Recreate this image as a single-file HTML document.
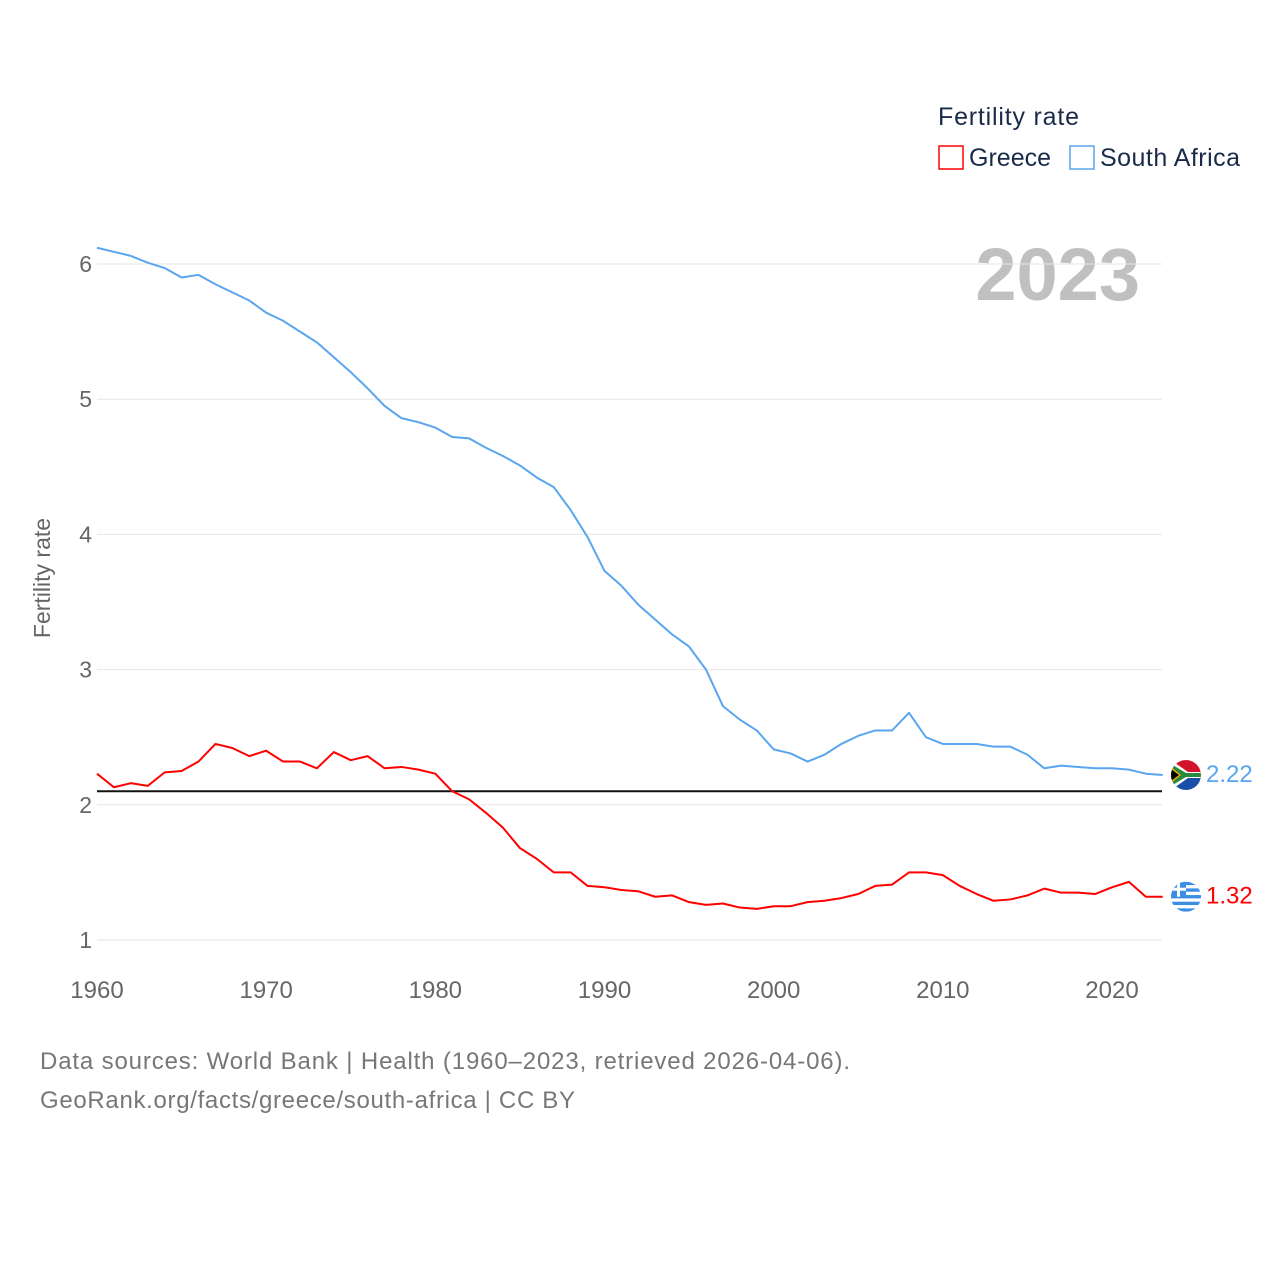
<!DOCTYPE html>
<html><head><meta charset="utf-8"><style>
body{margin:0;background:#fff;font-family:"Liberation Sans",sans-serif;}
svg text{font-family:"Liberation Sans",sans-serif;}
</style></head><body>
<svg id="chart" width="1280" height="1280" xmlns="http://www.w3.org/2000/svg">
<defs>
<clipPath id="c1"><circle cx="1186" cy="0" r="15"/></clipPath>
</defs>
<text x="938" y="125" font-size="25" fill="#1a2b4a" textLength="141">Fertility rate</text>
<rect x="939" y="146" width="24" height="23" fill="none" stroke="#f00" stroke-width="1.5"/>
<text x="969" y="166" font-size="25" fill="#1a2b4a" textLength="82">Greece</text>
<rect x="1070" y="146" width="24" height="23" fill="none" stroke="#5aa5f0" stroke-width="1.5"/>
<text x="1100" y="166" font-size="25" fill="#1a2b4a" textLength="140">South Africa</text>
<text x="1140" y="300" font-size="74" font-weight="bold" fill="#c0c0c0" text-anchor="end">2023</text>
<text transform="translate(50,578) rotate(-90)" font-size="23" fill="#666" text-anchor="middle">Fertility rate</text>
<g id="plot"></g>
<text x="40" y="1069" font-size="24" fill="#777" textLength="810">Data sources: World Bank | Health (1960–2023, retrieved 2026-04-06).</text>
<text x="40" y="1108" font-size="24" fill="#777" textLength="535">GeoRank.org/facts/greece/south-africa | CC BY</text>
</svg>
<script>
const years=[];for(let y=1960;y<=2023;y++)years.push(y);
const southAfrica=[6.12,6.09,6.06,6.01,5.97,5.90,5.92,5.85,5.79,5.73,5.64,5.58,5.50,5.42,5.31,5.20,5.08,4.95,4.86,4.83,4.79,4.72,4.71,4.64,4.58,4.51,4.42,4.35,4.18,3.98,3.73,3.62,3.48,3.37,3.26,3.17,3.00,2.73,2.63,2.55,2.41,2.38,2.32,2.37,2.45,2.51,2.55,2.55,2.68,2.50,2.45,2.45,2.45,2.43,2.43,2.37,2.27,2.29,2.28,2.27,2.27,2.26,2.23,2.22];
const greece=[2.23,2.13,2.16,2.14,2.24,2.25,2.32,2.45,2.42,2.36,2.40,2.32,2.32,2.27,2.39,2.33,2.36,2.27,2.28,2.26,2.23,2.10,2.04,1.94,1.83,1.68,1.60,1.50,1.50,1.40,1.39,1.37,1.36,1.32,1.33,1.28,1.26,1.27,1.24,1.23,1.25,1.25,1.28,1.29,1.31,1.34,1.40,1.41,1.50,1.50,1.48,1.40,1.34,1.29,1.30,1.33,1.38,1.35,1.35,1.34,1.39,1.43,1.32,1.32];
const yTicks=[1,2,3,4,5,6];
const xTicks=[1960,1970,1980,1990,2000,2010,2020];
const refValue=2.1;
const X=y=>97+(y-1960)*(1015/60);
const Y=v=>264+(6-v)*135.2;
const NS="http://www.w3.org/2000/svg";
const g=document.getElementById('plot');
function mk(t,a,parent){const e=document.createElementNS(NS,t);for(const k in a)e.setAttribute(k,a[k]);(parent||g).appendChild(e);return e;}
yTicks.forEach(v=>{
 const l=mk('line',{x1:97,x2:1162,y1:Y(v),y2:Y(v),stroke:'#e6e6e6','stroke-width':1});
 
 
 const t=mk('text',{x:92,y:Y(v)+8,'font-size':23,fill:'#666','text-anchor':'end'});t.textContent=v;
 
 
});
xTicks.forEach(v=>{
 const t=mk('text',{x:X(v),y:998,'font-size':24,fill:'#666','text-anchor':'middle'});t.textContent=v;
 
 
});
const ref=mk('line',{x1:97,x2:1162,y1:Y(refValue),y2:Y(refValue),stroke:'#111','stroke-width':2});


function flag(name,yy){
 const fg=mk('g',{transform:'translate(0,'+yy+')','clip-path':'url(#c1)'});
 
 
 if(name==='greece'){
  mk('rect',{x:1171,y:-15,width:30,height:30,fill:'#fff'},fg);
  for(let i=0;i<5;i++)mk('rect',{x:1171,y:-15+i*6.66,width:30,height:3.33,fill:'#3a8ee6'},fg);
  mk('rect',{x:1171,y:-15,width:15,height:15,fill:'#3a8ee6'},fg);
  mk('rect',{x:1171,y:-9,width:15,height:3,fill:'#fff'},fg);
  mk('rect',{x:1177,y:-15,width:3,height:15,fill:'#fff'},fg);
 }else{
  mk('rect',{x:1171,y:-15,width:30,height:15,fill:'#d2132a'},fg);
  mk('rect',{x:1171,y:0,width:30,height:15,fill:'#1a4fa8'},fg);
  mk('polygon',{points:'1171,-15 1188,-3 1201,-3 1201,3 1188,3 1171,15',fill:'#fff'},fg);
  mk('polygon',{points:'1171,-11 1186,-2 1201,-2 1201,2 1186,2 1171,11',fill:'#2a8a3e'},fg);
  mk('polygon',{points:'1171,-8 1181,0 1171,8',fill:'#f6b400'},fg);
  mk('polygon',{points:'1171,-6 1179,0 1171,6',fill:'#000'},fg);
 }
}
function series(vals,color,name){
 const p=mk('polyline',{points:vals.map((v,i)=>X(years[i])+','+Y(v)).join(' '),fill:'none',stroke:color,'stroke-width':2,'stroke-linejoin':'round'});
 
 
 const last=vals[vals.length-1],yy=Y(last);
 flag(name,yy);
 const t=mk('text',{x:1206,y:yy+7,'font-size':24,fill:color});t.textContent=last.toFixed(2);
 
 
}
series(southAfrica,'#5aa5f0','south-africa');
series(greece,'#f00','greece');
</script>
</body></html>
